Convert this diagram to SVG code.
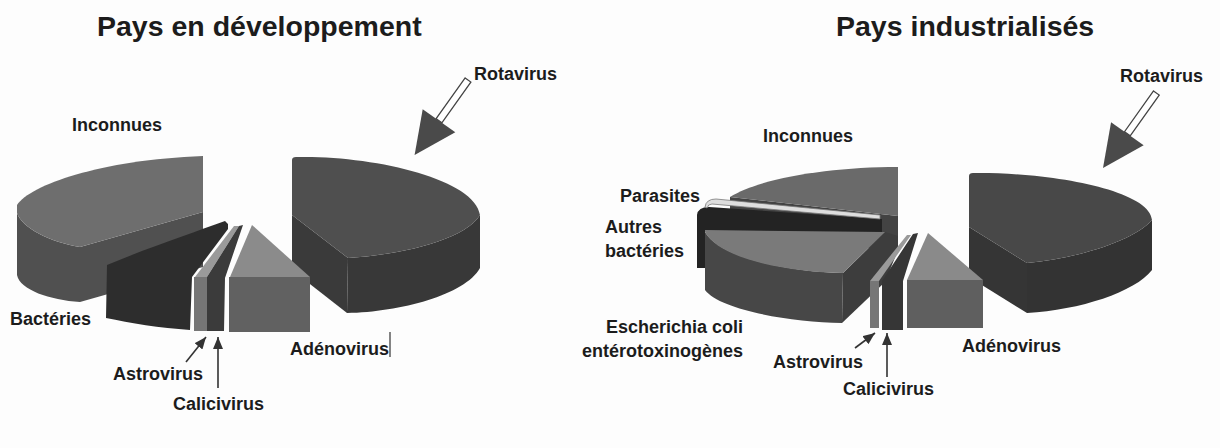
<svg xmlns="http://www.w3.org/2000/svg" width="1220" height="448" viewBox="0 0 1220 448">
<defs>
<style>
text{font-family:"Liberation Sans",Arial,sans-serif;font-weight:bold;fill:#1c1c1c}
.title{font-size:28.5px}
.lab{font-size:18px}
.conn{stroke:#333;stroke-width:1.6;fill:none}
.shaft{fill:#fff;stroke:#444;stroke-width:1.3}
.head{fill:#4a4a4a}
</style>
<marker id="ah" viewBox="0 0 12 10" refX="12" refY="5" markerWidth="12" markerHeight="10" markerUnits="userSpaceOnUse" orient="auto"><path d="M0,0 L12,5 L0,10 Z" fill="#333"/></marker>
</defs>
<rect x="0" y="0" width="1220" height="448" fill="#fdfdfd"/>

<text class="title" x="97" y="36">Pays en développement</text>
<text class="title" x="836" y="36">Pays industrialisés</text>

<!-- LEFT CHART -->
<g id="l-inconnues">
<path d="M17,213 C22,228 50,242 80,247 L203,212 L203,267 L80,302 C50,300 20,290 17,275 Z" fill="#505050"/>
<path d="M17,205 C30,185 100,160 203,156 L203,212 L80,247 C50,242 22,228 17,213 Z" fill="#6e6e6e"/>
<text class="lab" x="72" y="131">Inconnues</text>
</g>
<g id="l-bacteries">
<path d="M107,265 C150,247 195,232 225,221 L228,224 L228,229 L192,277 L190,330 C160,328 130,323 106,318 Z" fill="#2d2d2d"/>
<text class="lab" x="10" y="325">Bactéries</text>
</g>
<g id="l-astrovirus">
<path d="M195,277 L234,226 L239,226 L207,277 Z" fill="#9a9a9a"/>
<rect x="194" y="277" width="13" height="54" fill="#767676"/>
<text class="lab" x="113" y="380">Astrovirus</text>
</g>
<g id="l-calicivirus">
<path d="M207,277 L239,226 L243,225 L225,278 L224,331 L207,331 Z" fill="#3b3b3b"/>
<text class="lab" x="173" y="410">Calicivirus</text>
</g>
<g id="l-rotavirus">
<path d="M292,215 L348,258 L347,313 L292,270 Z" fill="#3a3a3a"/>
<path d="M480,215 L480,268 C465,295 400,312 347,313 L348,258 C400,255 465,240 480,215 Z" fill="#383838"/>
<path d="M292,160 Q292,157 296,157 C370,155 475,178 480,215 C465,240 400,255 348,258 L292,215 Z" fill="#4f4f4f"/>
<text class="lab" x="474" y="80">Rotavirus</text>
</g>
<g id="l-adenovirus">
<path d="M252,225 L230,277 L310,277 Z" fill="#8b8b8b"/>
<rect x="229" y="277" width="81" height="55" fill="#616161"/>
<text class="lab" x="290" y="355">Adénovirus</text>
<line x1="390" y1="332" x2="390" y2="357" stroke="#333" stroke-width="1.2"/>
</g>

<!-- RIGHT CHART -->
<g id="r-inconnues">
<path d="M730,197 L898,216 L898,252 L730,231 Z" fill="#434343"/>
<path d="M730,197 C760,178 830,167 898,167 L898,216 Z" fill="#6a6a6a"/>
<text class="lab" x="763" y="142">Inconnues</text>
</g>
<g id="r-autres">
<path d="M697,268 L697,215 Q698,207 709,207 L882,219 L882,233 L705,231 L705,268 Z" fill="#232323"/>
<text class="lab" x="605" y="233">Autres</text>
<text class="lab" x="605" y="257">bactéries</text>
</g>
<g id="r-parasites">
<path d="M705,207 Q706,199 716,199 L880,215 L880,219 L712,204 Q708,204 707,208 Z" fill="#dedede" stroke="#7a7a7a" stroke-width="0.8"/>
<text class="lab" x="620" y="202">Parasites</text>
</g>
<g id="r-etec">
<path d="M843,273 L885,232 L898,236 L898,250 L885,282 L842,323 Z" fill="#3d3d3d"/>
<path d="M705,232 C720,258 790,272 843,273 L842,323 C790,322 720,310 705,290 Z" fill="#474747"/>
<path d="M705,230 L885,232 L843,273 C790,272 720,260 705,232 Z" fill="#7a7a7a"/>
<text class="lab" x="743" y="333" text-anchor="end">Escherichia coli</text>
<text class="lab" x="743" y="357" text-anchor="end">entérotoxinogènes</text>
</g>
<g id="r-astrovirus">
<path d="M870,281 L907,235 L911,235 L879,281 Z" fill="#9a9a9a"/>
<rect x="870" y="281" width="9" height="47" fill="#767676"/>
<text class="lab" x="773" y="368">Astrovirus</text>
</g>
<g id="r-calicivirus">
<path d="M882,281 L913,234 L918,233 L903,281 L903,330 L882,330 Z" fill="#363636"/>
<text class="lab" x="843" y="395">Calicivirus</text>
</g>
<g id="r-rotavirus">
<path d="M969,227 L1027,263 L1027,313 L969,277 Z" fill="#353535"/>
<path d="M1152,220 L1152,270 C1135,292 1080,310 1027,313 L1027,263 C1080,258 1135,240 1152,220 Z" fill="#333333"/>
<path d="M969,176 Q969,173 973,173 C1050,172 1150,190 1152,220 C1135,240 1080,258 1027,263 L969,227 Z" fill="#484848"/>
<text class="lab" x="1120" y="82">Rotavirus</text>
</g>
<g id="r-adenovirus">
<path d="M928,233 L907,280 L983,280 Z" fill="#8a8a8a"/>
<rect x="907" y="280" width="76" height="48" fill="#5f5f5f"/>
<text class="lab" x="962" y="352">Adénovirus</text>
</g>

<g id="connectors">
<path class="shaft" d="M465.15,77.97 L470.85,82.03 L441.85,122.78 L436.15,118.72 Z"/>
<path class="head" d="M455.3,132.35 L422.7,109.15 L414.6,155 Z"/>
<path class="shaft" d="M1153.51,90.99 L1159.21,95.05 L1130.21,135.8 L1124.51,131.74 Z"/>
<path class="head" d="M1143.66,145.37 L1111.06,122.17 L1103,168 Z"/>
<line class="conn" x1="186" y1="362" x2="206" y2="337" marker-end="url(#ah)"/>
<line class="conn" x1="218" y1="388" x2="218" y2="337" marker-end="url(#ah)"/>
<line class="conn" x1="855" y1="348" x2="875" y2="333" marker-end="url(#ah)"/>
<line class="conn" x1="887" y1="377" x2="887" y2="333" marker-end="url(#ah)"/>
</g>
</svg>
